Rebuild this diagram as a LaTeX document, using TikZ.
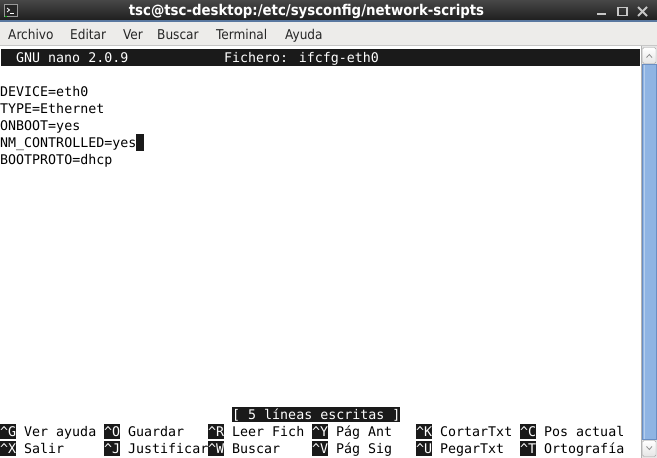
\documentclass[tikz,border=0pt]{standalone}
\usepackage{fontspec}
\setmainfont{DejaVu Sans}
\newfontfamily\monofont{DejaVu Sans Mono}
\newfontfamily\condfont{DejaVu Sans Condensed}
\definecolor{termblack}{HTML}{1A1A1A}
\definecolor{menubg}{HTML}{EDECEA}
\definecolor{thumbblue}{HTML}{8FB4E3}
\definecolor{thumbedge}{HTML}{6A8EC2}
\tikzset{
  mono/.style={font=\monofont\fontsize{13.3}{17}\selectfont, anchor=base west, inner sep=0pt, text=black},
  monoinv/.style={mono, text=white},
  menuitem/.style={font=\condfont\fontsize{13.5}{16}\selectfont, anchor=base west, inner sep=0pt, text=black!85},
  inv/.style={fill=termblack, draw=none},
}
\begin{document}
\begin{tikzpicture}[x=1pt,y=-1pt]
\useasboundingbox (0,0) rectangle (657,458);
% window title bar
\shade[top color=black!72, bottom color=black!88] (0,0) rectangle (657,20);
\fill[color={rgb,255:red,90;green,120;blue,160}] (0,20) rectangle (657,21.5);
\node[font=\condfont\bfseries\fontsize{14.8}{16}\selectfont, text=white, anchor=base, inner sep=0pt] (title) at (306.5,15.5) {tsc@tsc-desktop:/etc/sysconfig/network-scripts};
% icon
\fill[black!40] (4,4) rectangle (18,17);
\fill[black!85] (5,5) rectangle (17,16);
\draw[white, line width=0.8pt] (7,8) -- (9.5,10) -- (7,12);
\draw[white, line width=0.8pt] (10,13) -- (14,13);
\fill[green!70!black] (5,15.5) rectangle (7,16.5);
% window controls
\fill[black!22] (597,12.5) rectangle (606,15);
\draw[black!22, line width=1.4pt] (618,7.5) rectangle (627,15.5);
\draw[black!22, line width=2pt] (638,7) -- (647,16) (647,7) -- (638,16);
% menu bar
\fill[menubg] (0,21.5) rectangle (657,45);
\fill[black!22] (0,45) rectangle (657,46);
\node[menuitem] (m1) at (8,39) {Archivo};
\node[menuitem] (m2) at (70,39) {Editar};
\node[menuitem] (m3) at (123,39) {Ver};
\node[menuitem] (m4) at (157,39) {Buscar};
\node[menuitem] (m5) at (216,39) {Terminal};
\node[menuitem] (m6) at (285,39) {Ayuda};
% terminal area
\fill[white] (0,46) rectangle (641,458);
% header bar (row 0)
\fill[inv] (1,49) rectangle (640,66);
\node[monoinv] (h1) at (16,62) {GNU nano 2.0.9};
\node[monoinv] (h2) at (224,62) {Fichero: ifcfg-eth0};
% file contents
\node[mono] (l1) at (0,96) {DEVICE=eth0};
\node[mono] (l2) at (0,113) {TYPE=Ethernet};
\node[mono] (l3) at (0,130) {ONBOOT=yes};
\node[mono] (l4) at (0,147) {NM\_CONTROLLED=yes};
\node[mono] (l5) at (0,164) {BOOTPROTO=dhcp};
\fill[inv] (136,134) rectangle (144,151);
% status line (row 21)
\fill[inv] (232,406.5) rectangle (400,422);
\node[monoinv] (st) at (232,419) {[ 5 líneas escritas ]};
% shortcut rows
\foreach \c/\k/\t [count=\i] in {0/G/Ver ayuda,13/O/Guardar,26/R/Leer Fich,39/Y/Pág Ant,52/K/CortarTxt,65/C/Pos actual}{
  \fill[inv] (\c*8,423.5) rectangle (\c*8+16,439);
  \node[monoinv] (ka\i) at (\c*8,436) {\textasciicircum\k};
  \node[mono] (ta\i) at (\c*8+24,436) {\t};
}
\foreach \c/\k/\t [count=\i] in {0/X/Salir,13/J/Justificar,26/W/Buscar,39/V/Pág Sig,52/U/PegarTxt,65/T/Ortografía}{
  \fill[inv] (\c*8,440.5) rectangle (\c*8+16,456);
  \node[monoinv] (kb\i) at (\c*8,453) {\textasciicircum\k};
  \node[mono] (tb\i) at (\c*8+24,453) {\t};
}
% scrollbar
\fill[black!10] (641,46) rectangle (657,458);
\draw[black!30] (641.5,46) -- (641.5,458);
\shade[top color=white, bottom color=black!10, draw=black!35, rounded corners=1.5pt] (642.5,47.5) rectangle (656,63.5);
\draw[black!45, line width=0.8pt] (646.5,57.5) -- (649.3,54.5) -- (652,57.5);
\fill[thumbblue, draw=thumbedge] (642.5,64) rectangle (656,439.5);
\fill[white, opacity=0.35] (643.5,65) rectangle (645,438.5);
\shade[top color=white, bottom color=black!10, draw=black!35, rounded corners=1.5pt] (642.5,440.5) rectangle (656,456.5);
\draw[black!45, line width=0.8pt] (646.5,446.5) -- (649.3,449.5) -- (652,446.5);
\end{tikzpicture}
\end{document}
